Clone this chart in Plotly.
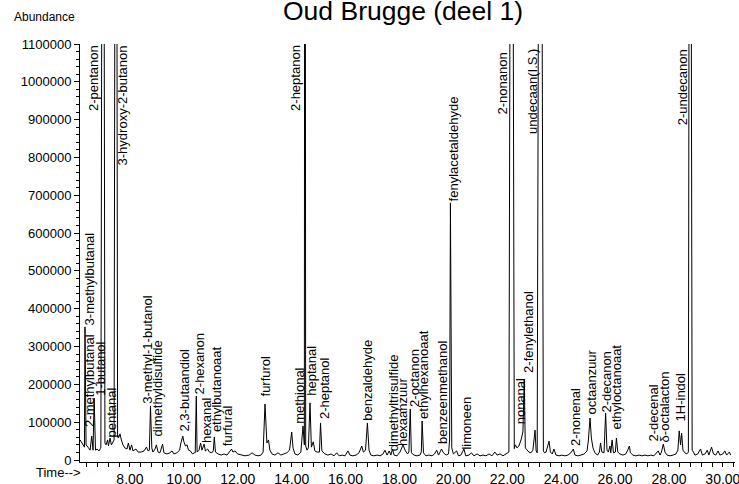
import plotly.graph_objects as go

# Retention time (min) and abundance of the chromatogram trace
time_min = [
    6.15, 6.26, 6.31, 6.33, 6.37, 6.44, 6.52, 6.58, 6.63, 6.67, 6.72, 6.78, 6.85, 6.90,
    6.92, 7.00, 7.07, 7.11, 7.17, 7.20, 7.26, 7.31, 7.37, 7.41, 7.48, 7.54, 7.57, 7.63,
    7.68, 7.74, 7.81, 7.89, 7.94, 8.00, 8.06, 8.11, 8.22, 8.30, 8.41, 8.52, 8.61, 8.67,
    8.72, 8.76, 8.81, 8.85, 8.93, 8.98, 9.04, 9.11, 9.21, 9.26, 9.37, 9.48, 9.56, 9.63,
    9.74, 9.84, 9.89, 9.96, 10.00, 10.06, 10.12, 10.17, 10.24, 10.32, 10.39, 10.42, 10.46,
    10.49, 10.56, 10.62, 10.67, 10.75, 10.80, 10.88, 10.95, 11.04, 11.09, 11.13, 11.17,
    11.27, 11.38, 11.49, 11.60, 11.69, 11.77, 11.82, 11.90, 11.99, 12.12, 12.27, 12.42,
    12.53, 12.64, 12.75, 12.86, 12.94, 13.01, 13.08, 13.14, 13.19, 13.27, 13.38, 13.49,
    13.60, 13.71, 13.82, 13.92, 14.00, 14.05, 14.12, 14.23, 14.34, 14.42, 14.45, 14.47,
    14.49, 14.52, 14.57, 14.62, 14.68, 14.73, 14.80, 14.86, 14.94, 15.03, 15.07, 15.12,
    15.23, 15.34, 15.46, 15.57, 15.67, 15.76, 15.87, 15.98, 16.09, 16.16, 16.27, 16.39,
    16.50, 16.60, 16.66, 16.74, 16.81, 16.87, 16.94, 17.05, 17.17, 17.28, 17.39, 17.46,
    17.54, 17.62, 17.68, 17.74, 17.80, 17.91, 18.02, 18.13, 18.22, 18.30, 18.35, 18.40,
    18.44, 18.54, 18.65, 18.76, 18.81, 18.84, 18.89, 18.98, 19.09, 19.21, 19.30, 19.38,
    19.45, 19.56, 19.63, 19.73, 19.82, 19.86, 19.89, 19.94, 20.00, 20.12, 20.19, 20.28,
    20.39, 20.46, 20.58, 20.67, 20.76, 20.88, 20.99, 21.10, 21.21, 21.32, 21.43, 21.54,
    21.62, 21.73, 21.84, 21.95, 22.02, 22.06, 22.16, 22.26, 22.30, 22.36, 22.43, 22.51,
    22.58, 22.63, 22.67, 22.73, 22.80, 22.88, 22.95, 23.03, 23.07, 23.11, 23.22, 23.34,
    23.38, 23.44, 23.55, 23.60, 23.67, 23.73, 23.81, 23.92, 24.03, 24.14, 24.25, 24.36,
    24.45, 24.51, 24.62, 24.73, 24.85, 24.96, 25.01, 25.07, 25.12, 25.18, 25.25, 25.35,
    25.42, 25.46, 25.51, 25.59, 25.65, 25.70, 25.75, 25.81, 25.84, 25.89, 25.94, 26.01,
    26.05, 26.10, 26.18, 26.29, 26.40, 26.47, 26.53, 26.57, 26.66, 26.77, 26.89, 27.00,
    27.11, 27.22, 27.33, 27.44, 27.51, 27.60, 27.67, 27.72, 27.79, 27.85, 27.93, 28.04,
    28.15, 28.26, 28.33, 28.38, 28.43, 28.47, 28.52, 28.59, 28.66, 28.72, 28.78, 28.86,
    28.91, 28.96, 29.07, 29.17, 29.24, 29.34, 29.42, 29.48, 29.58, 29.65, 29.74, 29.82,
    29.89, 30.00, 30.07, 30.14, 30.24, 30.29,
]
abundance = [
    53000, 40000, 34000, 352000, 40000, 34000, 26000, 63000, 26000, 164000, 26000, 29000, 24000, 30000,
    34000, 3000000, 45000, 40000, 53000, 37000, 58000, 40000, 48000, 53000, 3000000, 63000, 58000, 69000,
    53000, 40000, 32000, 29000, 45000, 26000, 40000, 24000, 29000, 21000, 21000, 24000, 34000, 24000,
    26000, 143000, 32000, 21000, 29000, 40000, 21000, 19000, 42000, 19000, 16000, 19000, 24000, 16000,
    19000, 26000, 45000, 63000, 48000, 37000, 40000, 26000, 24000, 16000, 19000, 19000, 169000,
    21000, 26000, 45000, 26000, 42000, 24000, 29000, 21000, 19000, 24000, 61000, 21000,
    16000, 13000, 16000, 13000, 21000, 29000, 21000, 24000, 16000, 13000, 11000, 13000,
    19000, 13000, 11000, 13000, 21000, 148000, 45000, 53000, 26000, 16000, 13000, 19000,
    13000, 16000, 19000, 26000, 74000, 32000, 16000, 13000, 21000, 90000, 40000, 40000,
    3000000, 37000, 26000, 32000, 151000, 34000, 48000, 24000, 21000, 21000, 98000, 24000,
    16000, 13000, 16000, 11000, 19000, 11000, 13000, 11000, 24000, 13000, 11000, 13000,
    19000, 37000, 21000, 26000, 98000, 26000, 13000, 11000, 13000, 11000, 16000, 26000,
    13000, 24000, 13000, 29000, 13000, 11000, 21000, 40000, 24000, 16000, 21000, 135000,
    19000, 13000, 11000, 13000, 21000, 103000, 19000, 11000, 13000, 11000, 16000, 26000,
    13000, 29000, 19000, 13000, 16000, 53000, 680000, 32000, 16000, 24000, 11000, 13000,
    29000, 11000, 13000, 19000, 11000, 16000, 11000, 13000, 11000, 16000, 11000, 21000,
    13000, 16000, 11000, 16000, 19000, 21000, 3000000, 30000, 40000, 32000, 37000, 53000,
    74000, 212000, 32000, 26000, 21000, 19000, 26000, 79000, 24000, 19000, 3000000, 24000,
    19000, 21000, 50000, 21000, 16000, 29000, 13000, 11000, 13000, 11000, 13000, 19000,
    29000, 13000, 11000, 13000, 16000, 24000, 53000, 111000, 58000, 32000, 19000, 13000,
    21000, 45000, 21000, 19000, 124000, 26000, 21000, 37000, 19000, 53000, 19000, 21000,
    58000, 21000, 16000, 13000, 16000, 26000, 37000, 19000, 13000, 11000, 13000, 11000,
    13000, 11000, 13000, 11000, 16000, 24000, 13000, 21000, 42000, 21000, 13000, 11000,
    13000, 16000, 26000, 77000, 40000, 71000, 26000, 19000, 16000, 21000, 3000000, 26000,
    21000, 13000, 16000, 29000, 13000, 16000, 26000, 13000, 34000, 16000, 13000, 24000,
    13000, 16000, 24000, 13000, 21000, 13000,
]

# Peak labels placed above their peaks (label centre time, label base abundance)
peak_names = [
    "3-methylbutanal", "2-methylbutanal", "1-butanol", "pentanal", "3-methyl-1-butanol",
    "dimethyldisulfide", "2,3-butaandiol", "2-hexanon", "hexanal", "ethylbutanoaat",
    "furfural", "furfurol", "methional", "heptanal", "2-heptanol", "benzaldehyde",
    "dimethyltrisulfide", "hexaanzuur", "2-octanon", "ethylhexanoaat", "benzeenmethanol",
    "fenylacetaldehyde", "limoneen", "nonanal", "2-fenylethanol", "2-nonenal",
    "octaanzuur", "2-decanon", "ethyloctanoaat", "2-decenal", "δ-octalacton", "1H-indol",
]
peak_label_t = [
    6.48, 6.50, 6.92, 7.31, 8.67,
    9.02, 10.04, 10.56, 10.82, 11.19,
    11.62, 13.01, 14.31, 14.75, 15.24, 16.81,
    17.76, 18.11, 18.58, 18.89, 19.60,
    19.99, 20.50, 22.49, 22.81, 24.51,
    25.14, 25.70, 26.07, 27.41, 27.85, 28.41,
]
peak_label_y = [
    352000, 85000, 167000, 58000, 146000,
    61000, 74000, 172000, 42000, 71000,
    34000, 164000, 93000, 167000, 106000, 101000,
    19000, 34000, 138000, 106000, 40000,
    680000, 26000, 93000, 228000, 34000,
    119000, 124000, 79000, 45000, 45000, 98000,
]

# Labels of off-scale peaks, hung from the top of the plot
top_names = ["2-pentanon", "3-hydroxy-2-butanon", "2-heptanon", "2-nonanon",
             "undecaan(I.S.)", "2-undecanon"]
top_label_t = [6.63, 7.72, 14.12, 21.84, 22.94, 28.50]
top_label_y = [1100000, 1100000, 1100000, 1080000, 1090000, 1090000]

y_ticks = [0, 100000, 200000, 300000, 400000, 500000, 600000, 700000, 800000,
           900000, 1000000, 1100000]

FONT = "Liberation Sans, Arial, sans-serif"

fig = go.Figure()
fig.add_trace(go.Scatter(
    x=time_min, y=abundance, mode="lines",
    line=dict(color="black", width=1), hoverinfo="skip", showlegend=False,
))

annotations = []
for name, t, y in zip(peak_names, peak_label_t, peak_label_y):
    annotations.append(dict(
        x=t, y=y, xref="x", yref="y", text=name, textangle=-90, showarrow=False,
        xanchor="center", yanchor="bottom", borderpad=0,
        font=dict(family=FONT, size=13, color="black"),
    ))
for name, t, y in zip(top_names, top_label_t, top_label_y):
    annotations.append(dict(
        x=t, y=y, xref="x", yref="y", text=name, textangle=-90, showarrow=False,
        xanchor="center", yanchor="top", borderpad=0,
        font=dict(family=FONT, size=13, color="black"),
    ))

annotations += [
    dict(text="Oud Brugge (deel 1)", xref="paper", yref="paper", x=0.493, y=1.079,
         xanchor="center", yanchor="middle", showarrow=False,
         font=dict(family=FONT, size=26.5, color="black")),
    dict(text="Abundance", xref="paper", yref="paper", x=-0.104, y=1.064,
         xanchor="left", yanchor="middle", showarrow=False,
         font=dict(family=FONT, size=12, color="black")),
    dict(text="Time-->", xref="paper", yref="paper", x=0.005, y=-0.026,
         xanchor="right", yanchor="middle", showarrow=False,
         font=dict(family=FONT, size=13, color="black")),
]

fig.update_layout(
    width=739, height=484,
    margin=dict(l=80, r=4, t=44, b=22, autoexpand=False),
    paper_bgcolor="white", plot_bgcolor="white",
    annotations=annotations,
    font=dict(family=FONT, color="black"),
)
fig.update_xaxes(
    range=[6.145, 30.45], tick0=0, dtick=2, tickformat=".2f", automargin=False,
    ticklabeloverflow="allow",
    showline=True, linecolor="black", linewidth=1, showgrid=False, zeroline=False,
    ticks="outside", ticklen=4, tickcolor="black",
    tickfont=dict(family=FONT, size=14, color="black"),
    minor=dict(dtick=0.4, tick0=0, ticks="outside", ticklen=4, tickcolor="black", showgrid=False),
)
fig.update_yaxes(
    range=[-5300, 1100000], tickvals=y_ticks, tickformat="d", automargin=False,
    ticklabeloverflow="allow",
    showline=True, linecolor="black", linewidth=1, showgrid=False, zeroline=False,
    ticks="outside", ticklen=5, tickcolor="black",
    tickfont=dict(family=FONT, size=13, color="black"),
    minor=dict(dtick=20000, tick0=0, ticks="outside", ticklen=3, tickcolor="black", showgrid=False),
)

fig.write_html("out.html", config={"displayModeBar": False},
               post_script="document.body.style.margin='0px';")
